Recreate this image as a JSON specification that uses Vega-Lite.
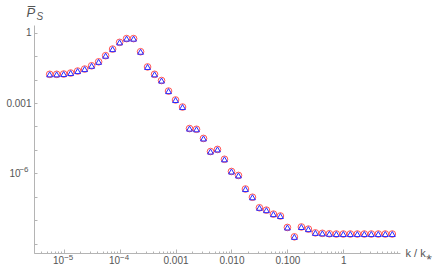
{
  "$schema": "https://vega.github.io/schema/vega-lite/v6.json",
  "autosize": {"type": "none"},
  "padding": {"left": 34, "top": 25, "right": 36, "bottom": 24},
  "width": 366,
  "height": 228,
  "background": "white",
  "config": {
    "view": {"stroke": null},
    "axis": {
      "labelFont": "Liberation Sans",
      "titleFont": "Liberation Sans",
      "labelColor": "#555555",
      "titleColor": "#555555",
      "domainColor": "#b4b4b4",
      "tickColor": "#b4b4b4",
      "grid": false,
      "labelOverlap": false,
      "labelFlush": false
    }
  },
  "data": {
    "values": [
      {"k": 5.6234e-6, "P": 0.0168},
      {"k": 7.4989e-6, "P": 0.0168},
      {"k": 1e-5, "P": 0.0173},
      {"k": 1.3335e-5, "P": 0.0191},
      {"k": 1.7783e-5, "P": 0.0232},
      {"k": 2.3714e-5, "P": 0.0282},
      {"k": 3.1623e-5, "P": 0.0389},
      {"k": 4.2170e-5, "P": 0.0575},
      {"k": 5.6234e-5, "P": 0.105},
      {"k": 7.4989e-5, "P": 0.201},
      {"k": 1e-4, "P": 0.389},
      {"k": 1.3335e-4, "P": 0.562},
      {"k": 1.7783e-4, "P": 0.562},
      {"k": 2.3714e-4, "P": 0.155},
      {"k": 3.1623e-4, "P": 0.0347},
      {"k": 4.2170e-4, "P": 0.0168},
      {"k": 5.6234e-4, "P": 0.00912},
      {"k": 7.4989e-4, "P": 0.00324},
      {"k": 1e-3, "P": 0.00135},
      {"k": 1.3335e-3, "P": 6.76e-4},
      {"k": 1.7783e-3, "P": 8.13e-5},
      {"k": 2.3714e-3, "P": 7.59e-5},
      {"k": 3.1623e-3, "P": 3.09e-5},
      {"k": 4.2170e-3, "P": 8.51e-6},
      {"k": 5.6234e-3, "P": 1.05e-5},
      {"k": 7.4989e-3, "P": 3.98e-6},
      {"k": 0.01, "P": 1.20e-6},
      {"k": 0.013335, "P": 8.13e-7},
      {"k": 0.017783, "P": 2.14e-7},
      {"k": 0.023714, "P": 9.55e-8},
      {"k": 0.031623, "P": 3.39e-8},
      {"k": 0.042170, "P": 2.69e-8},
      {"k": 0.056234, "P": 1.82e-8},
      {"k": 0.074989, "P": 1.51e-8},
      {"k": 0.1, "P": 4.90e-9},
      {"k": 0.13335, "P": 1.95e-9},
      {"k": 0.17783, "P": 5.13e-9},
      {"k": 0.23714, "P": 4.17e-9},
      {"k": 0.31623, "P": 2.88e-9},
      {"k": 0.42170, "P": 2.75e-9},
      {"k": 0.56234, "P": 2.63e-9},
      {"k": 0.74989, "P": 2.57e-9},
      {"k": 1, "P": 2.57e-9},
      {"k": 1.3335, "P": 2.57e-9},
      {"k": 1.7783, "P": 2.57e-9},
      {"k": 2.3714, "P": 2.57e-9},
      {"k": 3.1623, "P": 2.57e-9},
      {"k": 4.2170, "P": 2.57e-9},
      {"k": 5.6234, "P": 2.57e-9},
      {"k": 7.4989, "P": 2.57e-9}
    ]
  },
  "resolve": {"axis": {"x": "independent", "y": "independent"}},
  "layer": [
    {
      "mark": {"type": "point", "shape": "circle", "filled": false, "stroke": "#ff5555", "strokeWidth": 1, "size": 44, "opacity": 1},
      "encoding": {
        "x": {
          "field": "k", "type": "quantitative",
          "scale": {"type": "log", "domain": [2.95e-6, 10.3], "nice": false},
          "axis": {
            "orient": "bottom",
            "values": [1e-5, 1e-4, 0.001, 0.01, 0.1, 1],
            "tickSize": -4,
            "labelPadding": 6,
            "labelFontSize": 10,
            "labelAlign": {"condition": {"test": "datum.value < 5e-4", "value": "right"}, "value": "center"},
            "labelExpr": "datum.value < 5e-4 ? '10' : datum.value < 5e-3 ? '0.001' : datum.value < 0.05 ? '0.010' : datum.value < 0.5 ? '0.100' : '1'",
            "title": null
          }
        },
        "y": {
          "field": "P", "type": "quantitative",
          "scale": {"type": "log", "domain": [3.98e-10, 2.14], "nice": false},
          "axis": {
            "orient": "left",
            "values": [1e-9, 1e-8, 1e-7, 1e-6, 1e-5, 1e-4, 0.001, 0.01, 0.1, 1],
            "tickSize": -3,
            "labelPadding": {"condition": {"test": "abs(datum.value / 1e-6 - 1) < 0.01", "value": 17}, "value": 6},
            "labelFontSize": 10,
            "labelExpr": "datum.value > 0.5 ? '1' : abs(datum.value / 0.001 - 1) < 0.01 ? '0.001' : abs(datum.value / 1e-6 - 1) < 0.01 ? '10' : ''",
            "title": "P̅",
            "titleAngle": 0,
            "titleAlign": "left",
            "titleBaseline": "alphabetic",
            "titleX": -8,
            "titleY": -9,
            "titleFontSize": 13,
            "titleFontStyle": "italic",
            "titleFontWeight": "normal"
          }
        }
      }
    },
    {
      "mark": {"type": "point", "shape": "triangle-up", "filled": false, "stroke": "#2a2aff", "strokeWidth": 1, "size": 34, "opacity": 1},
      "encoding": {
        "x": {
          "field": "k", "type": "quantitative",
          "scale": {"type": "log", "domain": [2.95e-6, 10.3], "nice": false},
          "axis": {
            "orient": "bottom",
            "domain": false,
            "values": [3e-6, 4e-6, 5e-6, 6e-6, 7e-6, 8e-6, 9e-6, 1e-5, 2e-5, 3e-5, 4e-5, 5e-5, 6e-5, 7e-5, 8e-5, 9e-5, 1e-4, 2e-4, 3e-4, 4e-4, 5e-4, 6e-4, 7e-4, 8e-4, 9e-4, 0.002, 0.003, 0.004, 0.005, 0.006, 0.007, 0.008, 0.009, 0.02, 0.03, 0.04, 0.05, 0.06, 0.07, 0.08, 0.09, 0.2, 0.3, 0.4, 0.5, 0.6, 0.7, 0.8, 0.9, 2, 3, 4, 5, 6, 7, 8, 9],
            "tickSize": -2,
            "labelPadding": 2,
            "labelFontSize": 8,
            "labelAlign": "left",
            "labelOffset": 0,
            "labelExpr": "abs(datum.value / 1e-5 - 1) < 0.01 ? '−5' : abs(datum.value / 1e-4 - 1) < 0.01 ? '−4' : ''",
            "title": "k / k⁎",
            "titleAlign": "left",
            "titleBaseline": "middle",
            "titleX": 371,
            "titleY": 0,
            "titleFontSize": 11,
            "titleFontWeight": "normal"
          }
        },
        "y": {
          "field": "P", "type": "quantitative",
          "scale": {"type": "log", "domain": [3.98e-10, 2.14], "nice": false},
          "axis": {
            "orient": "left",
            "domain": false,
            "ticks": false,
            "values": [1e-6],
            "labelExpr": "'−6'",
            "labelFontSize": 8,
            "labelPadding": 6,
            "labelOffset": -4,
            "title": "S",
            "titleAngle": 0,
            "titleAlign": "left",
            "titleBaseline": "alphabetic",
            "titleX": 2,
            "titleY": -6,
            "titleFontSize": 10,
            "titleFontStyle": "italic",
            "titleFontWeight": "normal"
          }
        }
      }
    }
  ]
}
